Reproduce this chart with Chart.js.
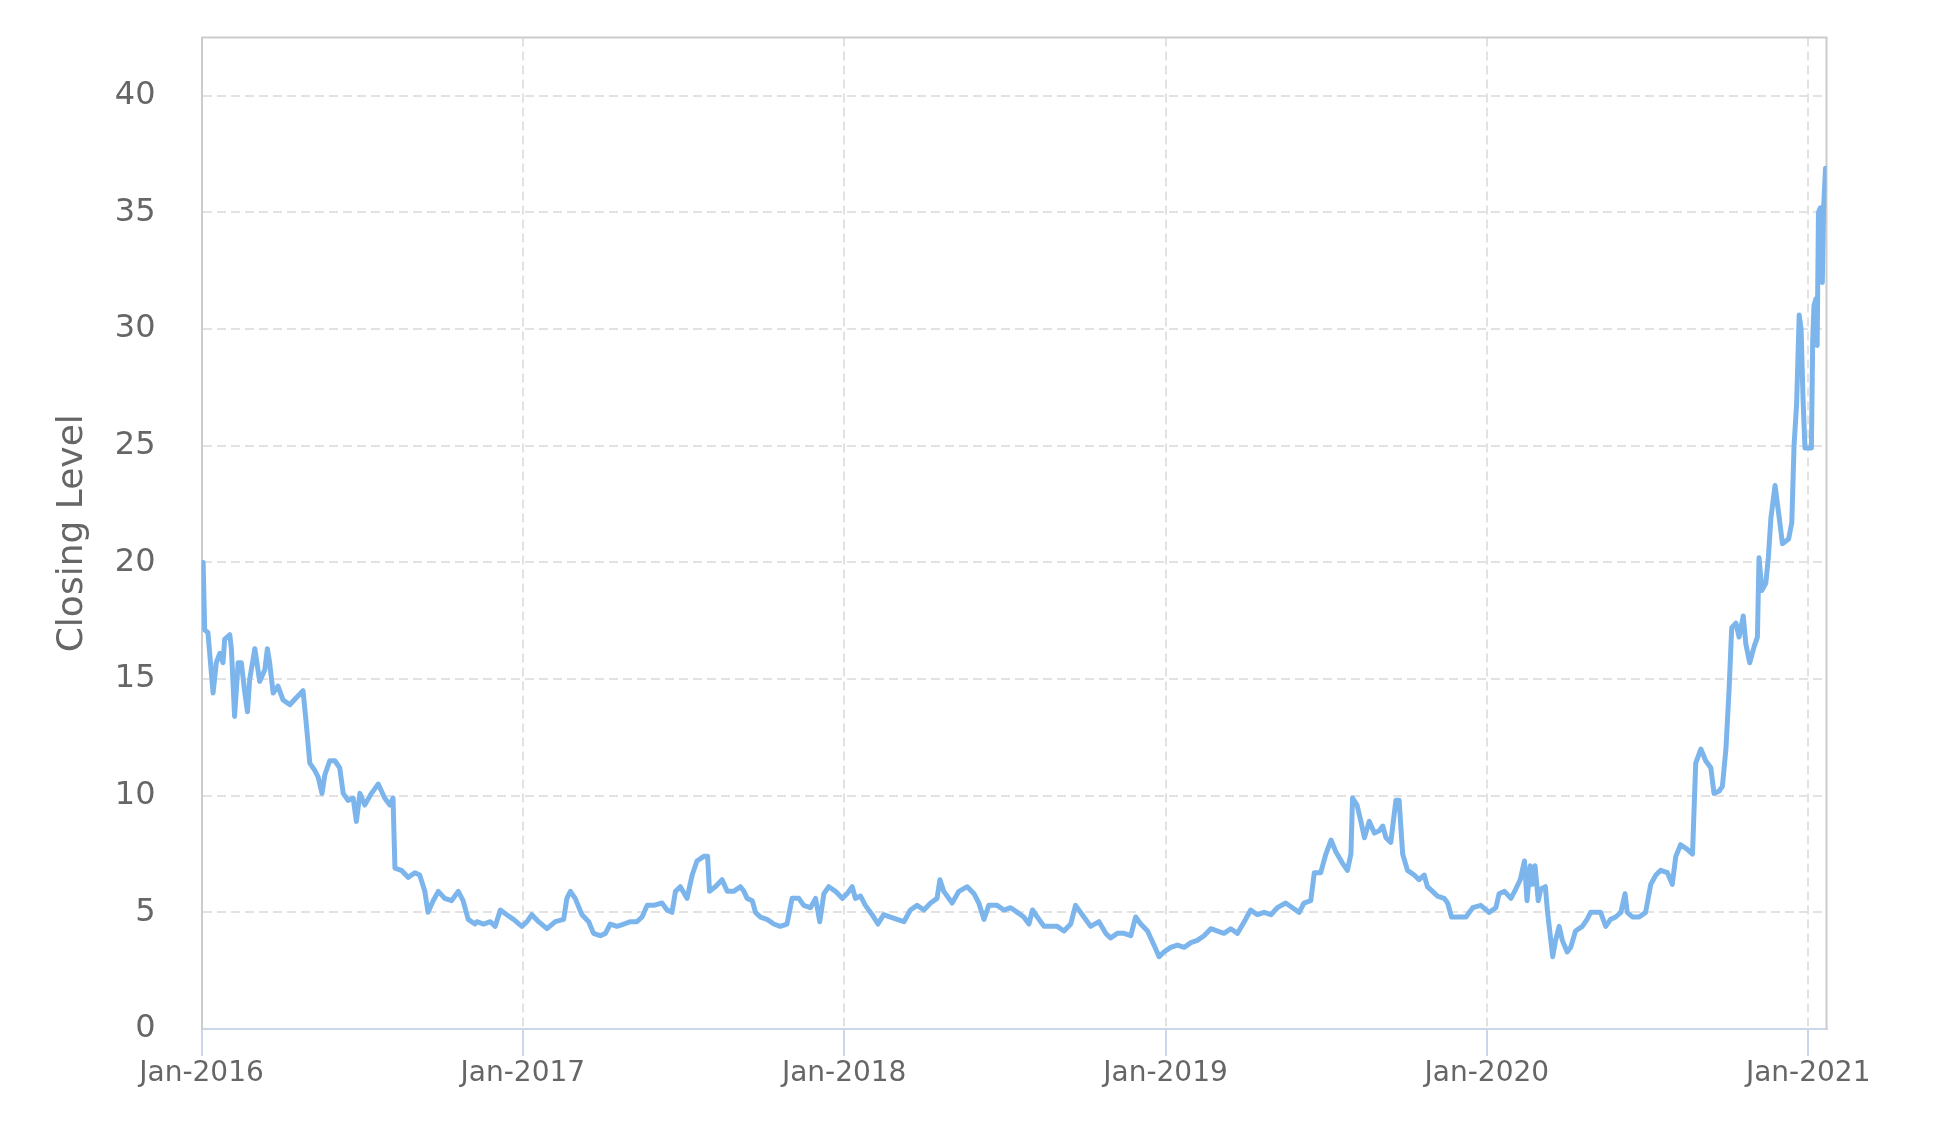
<!DOCTYPE html>
<html>
<head>
<meta charset="utf-8">
<script src="https://cdn.jsdelivr.net/npm/chart.js@4.4.1/dist/chart.umd.min.js"></script>
<style>
  html, body { margin: 0; padding: 0; background: #ffffff; }
  #wrap { width: 1950px; height: 1132px; }
</style>
</head>
<body>
<div id="wrap"><canvas id="c" width="1950" height="1132"></canvas></div>
<script>
// ---- Data ----
const startYear = 2016;
// time position of each reading, in years since 1 Jan 2016
const yearOffset = [
  0.005,0.010,0.020,0.036,0.046,0.057,0.067,0.072,0.088,0.093,0.103,0.114,0.124,0.134,0.143,0.150,
  0.166,0.181,0.197,0.205,0.212,0.223,0.238,0.254,0.275,0.295,0.316,0.326,0.337,0.352,0.363,0.375,
  0.384,0.399,0.415,0.430,0.441,0.456,0.472,0.482,0.493,0.508,0.529,0.550,0.570,0.586,0.596,0.602,
  0.622,0.643,0.664,0.679,0.695,0.705,0.721,0.737,0.757,0.778,0.799,0.814,0.830,0.851,
  0.857,0.878,0.899,0.914,0.930,0.950,0.971,0.997,1.013,1.028,1.049,1.075,1.101,1.127,1.137,1.148,
  1.163,1.184,1.205,1.220,1.241,1.257,1.272,1.293,1.314,1.335,1.355,1.371,1.387,1.407,1.433,1.449,
  1.464,1.475,1.490,1.511,1.527,1.542,1.563,1.575,1.581,1.599,1.620,1.636,1.656,1.677,
  1.688,1.698,1.714,1.724,1.739,1.760,1.781,1.801,1.822,1.838,1.859,1.874,1.895,1.911,1.924,1.937,
  1.952,1.973,1.994,2.009,2.025,2.035,2.051,2.066,2.087,2.105,2.123,2.144,2.165,2.186,2.206,2.227,
  2.248,2.269,2.289,2.298,2.310,2.336,2.357,2.383,2.404,2.419,2.435,2.450,2.476,2.497,
  2.518,2.539,2.559,2.575,2.586,2.601,2.622,2.642,2.663,2.684,2.705,2.720,2.741,2.767,2.793,2.814,
  2.829,2.850,2.871,2.892,2.907,2.923,2.944,2.964,2.980,2.995,3.016,3.037,3.058,3.079,3.099,3.120,
  3.141,3.162,3.182,3.203,3.224,3.245,3.265,3.286,3.307,3.328,3.348,
  3.374,3.395,3.416,3.431,3.452,3.463,3.483,3.499,3.515,3.530,3.551,3.566,3.577,3.582,3.596,3.608,
  3.619,3.634,3.650,3.665,3.676,3.686,3.701,3.717,3.727,3.738,3.753,3.774,3.789,3.805,3.815,3.831,
  3.846,3.867,3.878,3.890,3.909,3.935,3.956,3.981,4.007,4.028,4.038,4.055,4.075,4.090,4.104,4.117,
  4.125,4.135,4.142,4.150,4.160,4.168,4.182,4.189,4.200,
  4.205,4.214,4.225,4.235,4.250,4.261,4.276,4.297,4.312,4.323,4.339,4.354,4.370,4.385,4.401,4.417,
  4.430,4.437,4.453,4.474,4.494,4.510,4.526,4.541,4.562,4.577,4.588,4.603,4.624,4.640,4.650,4.666,
  4.681,4.697,4.707,4.723,4.733,4.744,4.754,4.762,4.775,4.785,4.798,4.806,4.818,4.832,4.842,4.847,
  4.856,4.868,4.876,4.884,4.897,4.910,4.920,4.939,4.949,4.956,4.964,4.972,4.978,4.984,4.990,5.000,
  5.010,5.014,5.018,5.024,5.028,5.032,5.038,5.044,5.048,5.054
];
const closingLevel = [
  20,17.1,17,14.4,15.7,16.1,15.7,16.7,16.9,16.3,13.4,15.7,15.7,14.5,13.6,15,
  16.3,14.9,15.4,16.3,15.7,14.4,14.7,14.1,13.9,14.2,14.5,13.1,11.4,11.1,10.8,10.1,
  10.9,11.5,11.5,11.2,10.1,9.8,9.9,8.9,10.1,9.6,10.1,10.5,9.9,9.6,9.9,6.9,
  6.8,6.5,6.7,6.6,5.9,5.0,5.5,5.9,5.6,5.5,5.9,5.5,4.7,4.5,
  4.6,4.5,4.6,4.4,5.1,4.9,4.7,4.4,4.6,4.9,4.6,4.3,4.6,4.7,5.6,5.9,
  5.6,4.9,4.6,4.1,4.0,4.1,4.5,4.4,4.5,4.6,4.6,4.8,5.3,5.3,5.4,5.1,
  5.0,5.9,6.1,5.6,6.6,7.2,7.4,7.4,5.9,6.1,6.4,5.9,5.9,6.1,
  5.9,5.6,5.5,5.0,4.8,4.7,4.5,4.4,4.5,5.6,5.6,5.3,5.2,5.6,4.6,5.8,
  6.1,5.9,5.6,5.8,6.1,5.6,5.7,5.3,4.9,4.5,4.9,4.8,4.7,4.6,5.1,5.3,
  5.1,5.4,5.6,6.4,5.9,5.4,5.9,6.1,5.8,5.4,4.7,5.3,5.3,5.1,
  5.2,5.0,4.8,4.5,5.1,4.8,4.4,4.4,4.4,4.2,4.5,5.3,4.9,4.4,4.6,4.1,
  3.9,4.1,4.1,4.0,4.8,4.5,4.2,3.6,3.1,3.3,3.5,3.6,3.5,3.7,3.8,4.0,
  4.3,4.2,4.1,4.3,4.1,4.6,5.1,4.9,5.0,4.9,5.2,
  5.4,5.2,5.0,5.4,5.5,6.7,6.7,7.5,8.1,7.6,7.1,6.8,7.5,9.9,9.6,8.9,
  8.2,8.9,8.4,8.5,8.7,8.2,8.0,9.8,9.8,7.5,6.8,6.6,6.4,6.6,6.1,5.9,
  5.7,5.6,5.4,4.8,4.8,4.8,5.2,5.3,5.0,5.2,5.8,5.9,5.6,6.0,6.4,7.2,
  5.5,7.0,6.2,7.0,5.5,6.0,6.1,5.0,3.7,
  3.1,3.8,4.4,3.8,3.3,3.5,4.2,4.4,4.7,5.0,5.0,5.0,4.4,4.7,4.8,5.0,
  5.8,5.0,4.8,4.8,5.0,6.2,6.6,6.8,6.7,6.2,7.4,7.9,7.7,7.5,11.4,12.0,
  11.5,11.2,10.1,10.2,10.4,12.0,14.6,17.2,17.4,16.8,17.7,16.5,15.7,16.4,16.8,20.2,
  18.8,19.1,20.2,21.9,23.3,21.9,20.8,21.0,21.7,25.0,26.8,30.6,30.0,27.0,24.9,24.9,
  24.9,29.5,31.0,31.3,29.3,35.0,35.2,32.0,35.2,36.9
];
const tickYears = [2016, 2017, 2018, 2019, 2020, 2021];
const tickLabels = ['Jan-2016', 'Jan-2017', 'Jan-2018', 'Jan-2019', 'Jan-2020', 'Jan-2021'];
const yTicks = [0, 5, 10, 15, 20, 25, 30, 35, 40];
const yTitle = 'Closing Level';

// ---- Chart ----
const points = yearOffset.map((o, i) => ({ x: startYear + o, y: closingLevel[i] }));

const plotBorder = {
  id: 'plotBorder',
  beforeDatasetsDraw(chart) {
    const { ctx, chartArea: a } = chart;
    ctx.save();
    ctx.strokeStyle = '#cccccc';
    ctx.lineWidth = 2;
    ctx.beginPath();
    ctx.moveTo(a.left, a.top);
    ctx.lineTo(a.right, a.top);
    ctx.lineTo(a.right, a.bottom);
    ctx.stroke();
    ctx.restore();
  }
};

Chart.defaults.font.family = '"DejaVu Sans", Verdana, sans-serif';

new Chart(document.getElementById('c'), {
  type: 'line',
  data: {
    datasets: [{
      label: yTitle,
      data: points,
      borderColor: '#7cb5ec',
      borderWidth: 5,
      pointRadius: 0,
      tension: 0,
      fill: false,
      borderJoinStyle: 'round',
      borderCapStyle: 'round'
    }]
  },
  options: {
    responsive: false,
    animation: false,
    layout: { padding: { top: 37.5, right: 123.5, bottom: 0, left: 0 } },
    plugins: { legend: { display: false }, tooltip: { enabled: false } },
    scales: {
      x: {
        type: 'linear',
        min: 2016,
        max: 2021.057,
        afterBuildTicks: s => { s.ticks = tickYears.map(v => ({ value: v })); },
        afterFit: s => { s.height = 103; s.paddingLeft = 0; s.paddingRight = 0; },
        ticks: {
          autoSkip: false,
          maxRotation: 0,
          padding: 1,
          color: '#666666',
          font: { size: 28 },
          callback: v => { const i = tickYears.indexOf(v); return i >= 0 ? tickLabels[i] : ''; }
        },
        grid: { color: '#e2e2e2', lineWidth: 2, tickColor: '#ccd6eb', tickWidth: 2, tickLength: 27 },
        border: { color: '#ccd6eb', width: 2, dash: [9, 5] }
      },
      y: {
        min: 0,
        max: 42.5,
        afterBuildTicks: s => { s.ticks = yTicks.map(v => ({ value: v })); },
        afterFit: s => { s.width = 201.5; s.paddingTop = 0; s.paddingBottom = 0; },
        ticks: { color: '#666666', font: { size: 32 }, padding: 46 },
        grid: { color: '#e2e2e2', lineWidth: 2, drawTicks: false },
        border: { color: '#cccccc', width: 2, dash: [9, 5] },
        title: {
          display: true,
          text: yTitle,
          color: '#666666',
          font: { size: 36 },
          padding: { top: 51, bottom: 0 }
        }
      }
    }
  },
  plugins: [plotBorder]
});
</script>
</body>
</html>
